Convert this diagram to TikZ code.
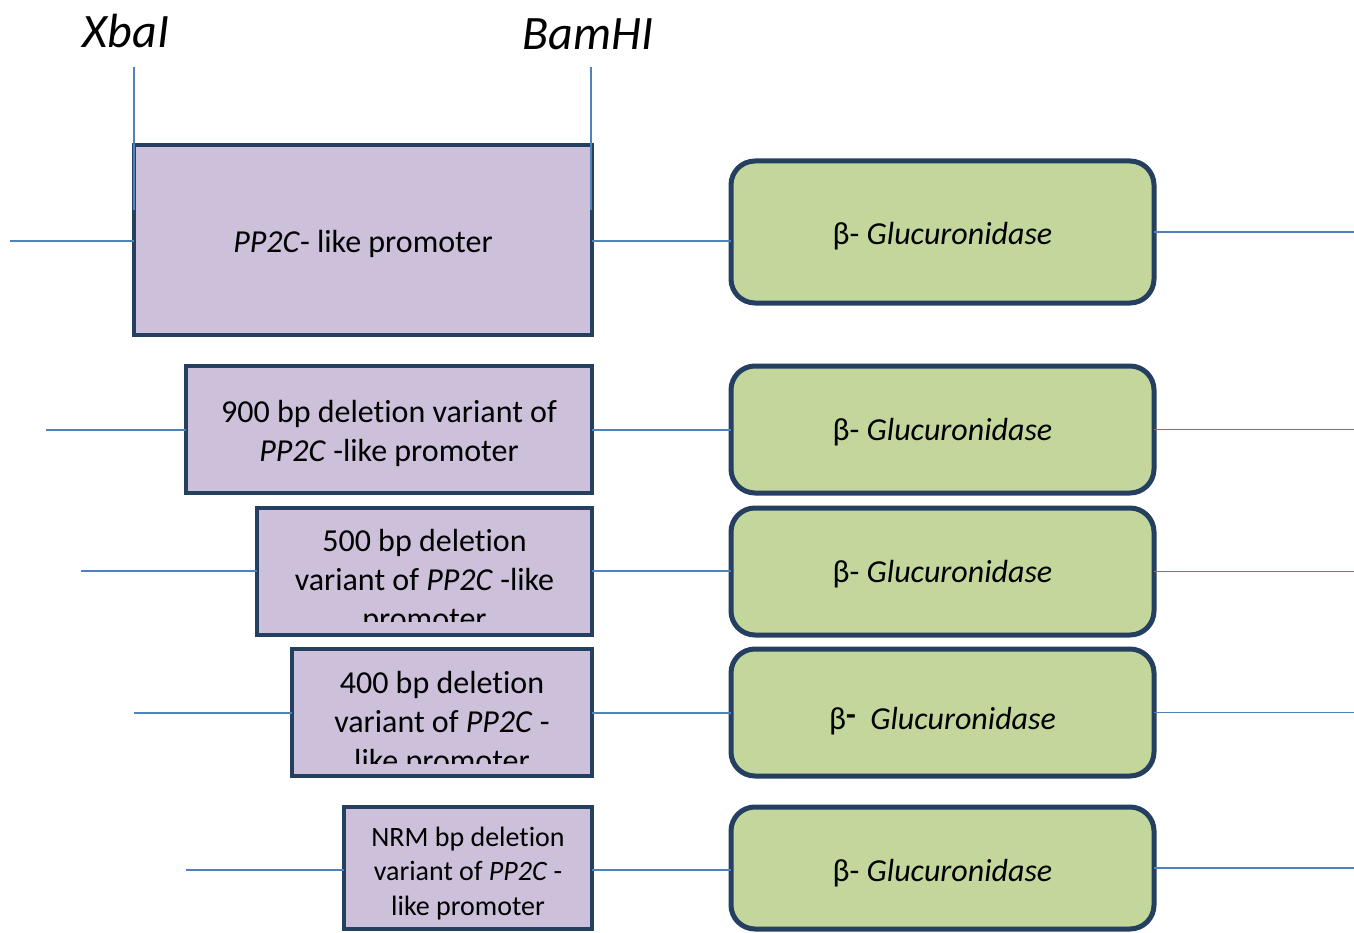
\documentclass[tikz,border=0pt]{standalone}
\usepackage{fontspec}
\setmainfont{Carlito}[Ligatures=NoCommon]
\begin{document}
\begin{tikzpicture}[x=1pt,y=-1pt,
  dna/.style={draw=dnablue,line width=1.6pt},
  promoterbox/.style={draw=boxedge,line width=4.5pt,fill=promfill,anchor=north west,inner sep=0pt,outer sep=0pt},
  gusbox/.style={draw=boxedge,line width=5pt,fill=gusfill,rounded corners=24pt,anchor=north west,inner sep=0pt,outer sep=0pt},
  big/.style={font=\fontsize{32}{39}\selectfont,align=center,inner sep=0pt},
  small/.style={font=\fontsize{28}{34.5}\selectfont,align=center,inner sep=0pt},
  site/.style={font=\fontsize{48}{56}\selectfont\itshape,inner sep=0pt}]
\definecolor{dnablue}{HTML}{4F81BD}
\definecolor{boxedge}{HTML}{243F60}
\definecolor{promfill}{HTML}{CCC0DA}
\definecolor{gusfill}{HTML}{C3D69B}
\clip (0,0) rectangle (1354,933);
\fill[white] (0,0) rectangle (1354,933);

% restriction sites
\node[site] (xba) at (126,31) {XbaI};
\node[site] (bam) at (588,34) {BamHI};

% promoter constructs
\node[promoterbox,minimum width=458pt,minimum height=190pt] (p1) at (134,145) {};
\node[promoterbox,minimum width=406pt,minimum height=127pt] (p2) at (186,366) {};
\node[promoterbox,minimum width=335pt,minimum height=127pt] (p3) at (257,508) {};
\node[promoterbox,minimum width=300pt,minimum height=127pt] (p4) at (292,649) {};
\node[promoterbox,minimum width=248pt,minimum height=122pt] (p5) at (344,807) {};

% reporter gene boxes
\node[gusbox,minimum width=423pt,minimum height=142pt] (g1) at (731,161) {};
\node[gusbox,minimum width=423pt,minimum height=127pt] (g2) at (731,366) {};
\node[gusbox,minimum width=423pt,minimum height=127pt] (g3) at (731,508) {};
\node[gusbox,minimum width=423pt,minimum height=127pt] (g4) at (731,649) {};
\node[gusbox,minimum width=423pt,minimum height=122pt] (g5) at (731,807) {};

% free ends of the vector backbone
\coordinate (l1) at (10,241);
\coordinate (l2) at (46,430);
\coordinate (l3) at (81,571);
\coordinate (l4) at (134,713);
\coordinate (l5) at (186,870);
\coordinate (rim) at (1354,0);
\coordinate (xtop) at (134,67);
\coordinate (xbot) at (134,210);
\coordinate (btop) at (591,67);
\coordinate (bbot) at (591,210);

% backbone connectors
\draw[dna] (l1) -- (l1 -| p1.west);
\draw[dna] (p1.east |- l1) -- (l1 -| g1.west);
\draw[dna] (g1.east) -- (g1.east -| rim);
\draw[dna] (l2) -- (l2 -| p2.west);
\draw[dna] (p2.east |- l2) -- (l2 -| g2.west);
\draw[dna] (g2.east) -- (g2.east -| rim);
\draw[dna] (l3) -- (l3 -| p3.west);
\draw[dna] (p3.east |- l3) -- (l3 -| g3.west);
\draw[dna] (g3.east) -- (g3.east -| rim);
\draw[dna] (l4) -- (l4 -| p4.west);
\draw[dna] (p4.east |- l4) -- (l4 -| g4.west);
\draw[dna] (g4.east) -- (g4.east -| rim);
\draw[dna] (l5) -- (l5 -| p5.west);
\draw[dna] (p5.east |- l5) -- (l5 -| g5.west);
\draw[dna] (g5.east) -- (g5.east -| rim);

% cut-site markers
\draw[dna] (xtop) -- (xbot);
\draw[dna] (btop) -- (bbot);

% promoter labels
\node[big] (t1) at (363,244) {\textit{PP2C}- like promoter};
\node[big] (t2) at (389,433) {900 bp deletion variant of\\\textit{PP2C} -like promoter};
\begin{scope}
  \clip ([xshift=3pt,yshift=-3pt]p3.north west) rectangle ([xshift=-3pt,yshift=14pt]p3.south east);
  \node[big] (t3) at (424.5,582) {500 bp deletion\\variant of \textit{PP2C} -like\\promoter};
\end{scope}
\begin{scope}
  \clip ([xshift=3pt,yshift=-3pt]p4.north west) rectangle ([xshift=-3pt,yshift=13pt]p4.south east);
  \node[big] (t4) at (442,724) {400 bp deletion\\variant of \textit{PP2C} -\\like promoter};
\end{scope}
\node[small] (t5) at (468,873.5) {NRM bp deletion\\variant of \textit{PP2C} -\\like promoter};

% reporter labels
\node[big] (u1) at (942.5,236) {β- \textit{Glucuronidase}};
\node[big] (u2) at (942.5,432) {β- \textit{Glucuronidase}};
\node[big] (u3) at (942.5,574) {β- \textit{Glucuronidase}};
\node[big] (u4) at (942.5,721) {β\raisebox{0.12em}{\textbf{-}}\ \ \textit{Glucuronidase}};
\node[big] (u5) at (942.5,873) {β- \textit{Glucuronidase}};
\end{tikzpicture}
\end{document}
